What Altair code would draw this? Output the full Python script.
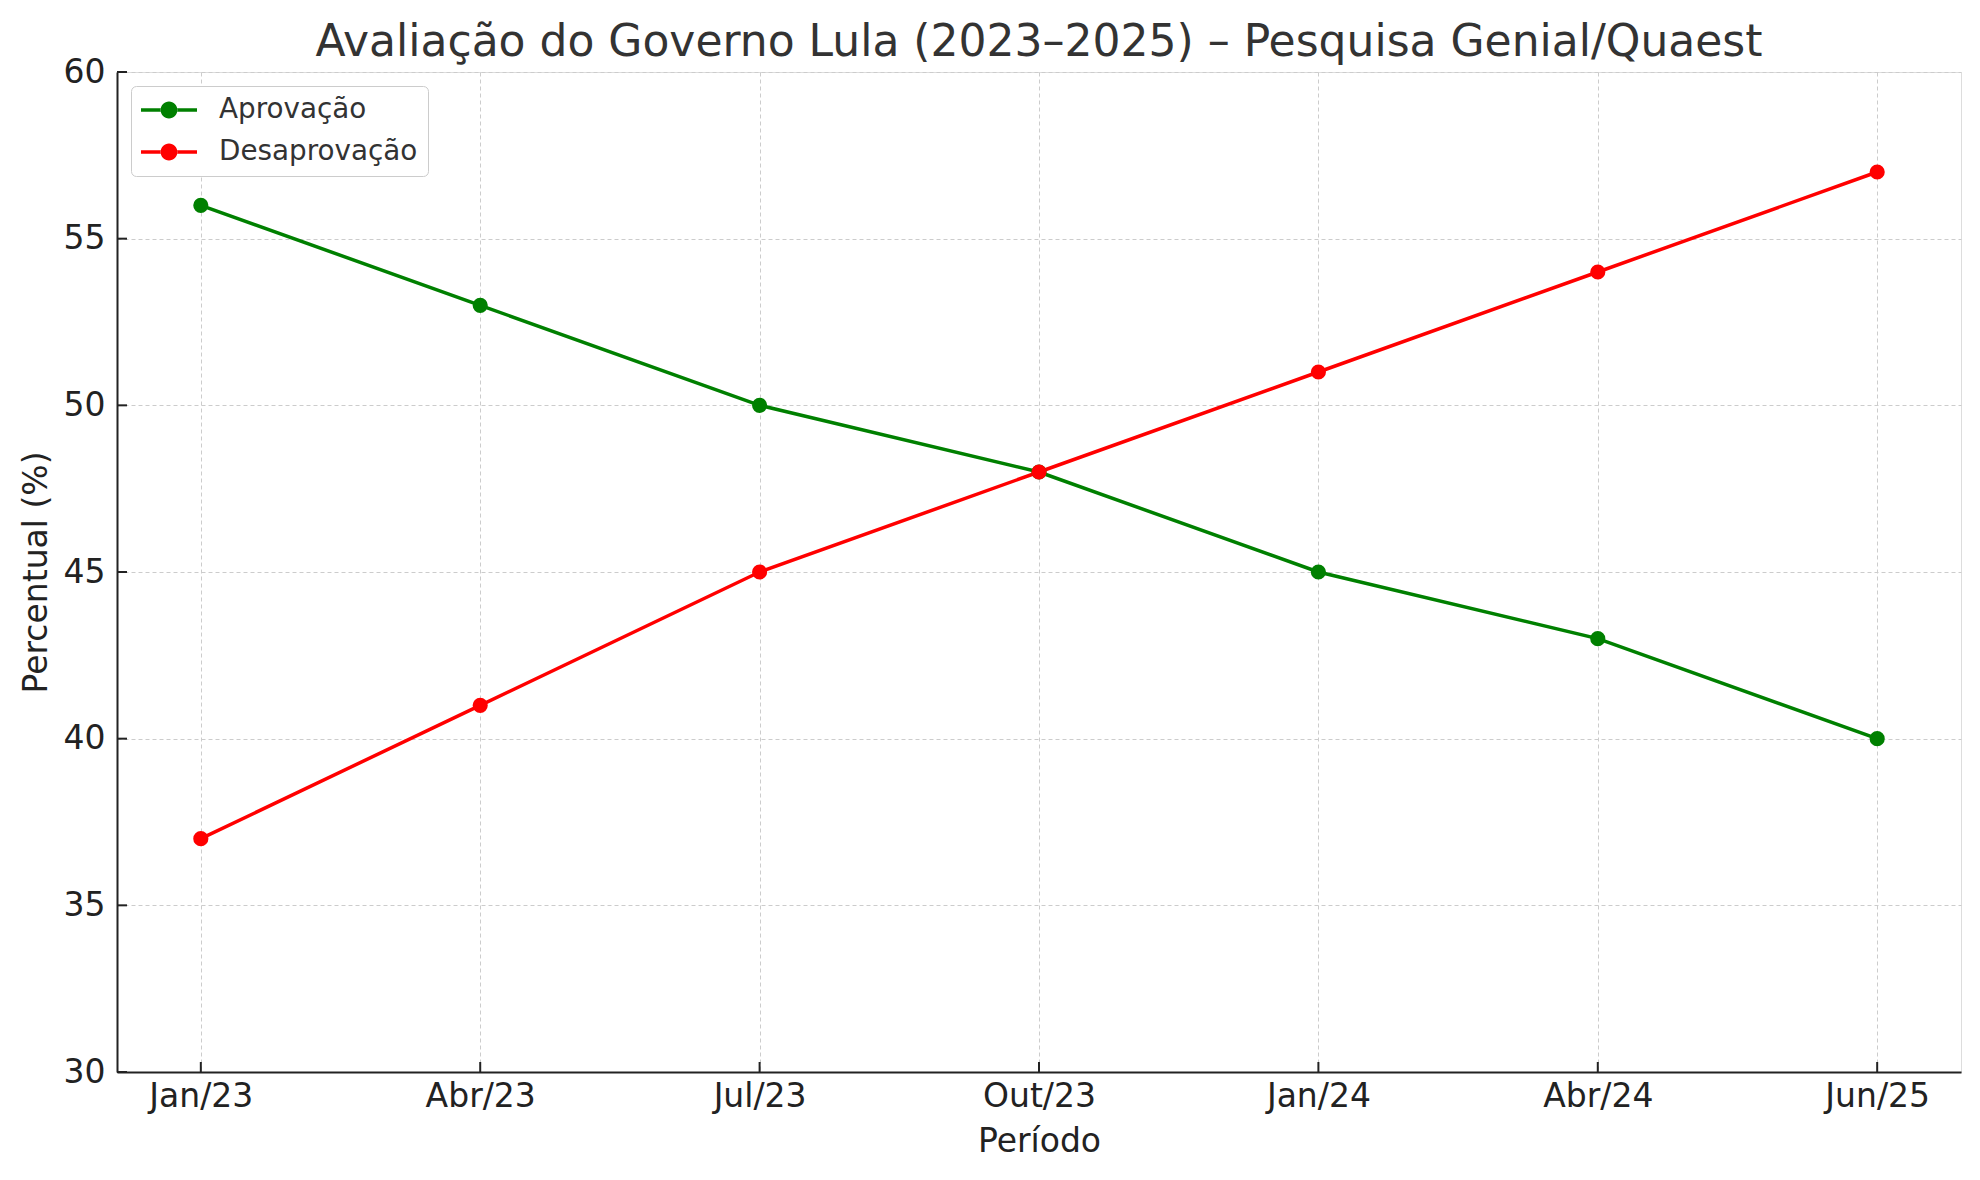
import altair as alt
import pandas as pd

periods = ["Jan/23", "Abr/23", "Jul/23", "Out/23", "Jan/24", "Abr/24", "Jun/25"]
aprovacao = [56, 53, 50, 48, 45, 43, 40]
desaprovacao = [37, 41, 45, 48, 51, 54, 57]
series_names = ["Aprovação", "Desaprovação"]
series_colors = ["green", "red"]
y_ticks = [30, 35, 40, 45, 50, 55, 60]

rows = []
for p, a, d in zip(periods, aprovacao, desaprovacao):
    rows.append({"Período": p, "Série": series_names[0], "Valor": a})
    rows.append({"Período": p, "Série": series_names[1], "Valor": d})
df = pd.DataFrame(rows)
ytick_df = pd.DataFrame({"Valor": y_ticks})
xtick_df = pd.DataFrame({"Período": periods})

FONT = "DejaVu Sans"
W, H = 1844, 1000

xscale = alt.Scale(type="point", padding=0.3)
yscale = alt.Scale(domain=[30, 60], nice=False, zero=False)

x_axis = alt.Axis(title="Período", labelAngle=0, ticks=False, grid=True,
                  gridDash=[4, 3], gridColor="#cccccc", gridWidth=1,
                  domainColor="#222222", domainWidth=2,
                  labelFont=FONT, labelFontSize=33, labelColor="#222222",
                  labelPadding=8, titleFont=FONT, titleFontSize=33,
                  titleFontWeight="normal", titleColor="#222222", titlePadding=12)
y_axis = alt.Axis(title="Percentual (%)", values=y_ticks, ticks=False, grid=True,
                  gridDash=[4, 3], gridColor="#cccccc", gridWidth=1,
                  domainColor="#222222", domainWidth=2,
                  labelFont=FONT, labelFontSize=33, labelColor="#222222",
                  labelPadding=12, titleFont=FONT, titleFontSize=33,
                  titleFontWeight="normal", titleColor="#222222", titlePadding=10)

# legend glyph: line with a circle in the middle (unit = 14px)
legend_path = ("M-1,-0.125 H0.42 V0.125 H-1 Z "
               "M1.58,-0.125 H3 V0.125 H1.58 Z "
               "M0.4,0 A0.6,0.6 0 1,0 1.6,0 A0.6,0.6 0 1,0 0.4,0 Z")

legend = alt.Legend(title=None, orient="top-left", offset=14, padding=10,
                    strokeColor="#cccccc", fillColor="white", cornerRadius=5,
                    labelFont=FONT, labelFontSize=27.8, labelColor="#333333",
                    labelLimit=500,
                    symbolType=legend_path, symbolSize=784, symbolStrokeWidth=0,
                    symbolOpacity=1, labelOffset=50, rowPadding=14)

color = alt.Color("Série:N", sort=series_names,
                  scale=alt.Scale(domain=series_names, range=series_colors),
                  legend=legend)

x = alt.X("Período:N", sort=periods, scale=xscale, axis=x_axis)
y = alt.Y("Valor:Q", scale=yscale, axis=y_axis)

lines = alt.Chart(df).mark_line(strokeWidth=3.5).encode(x=x, y=y, color=color)
points = alt.Chart(df).mark_point(filled=True, size=230, opacity=1).encode(x=x, y=y, color=color)

yticks = alt.Chart(ytick_df).mark_rule(color="#222222", strokeWidth=2).encode(
    y=alt.Y("Valor:Q", scale=yscale, axis=y_axis), x=alt.value(0), x2=alt.value(10))
xticks = alt.Chart(xtick_df).mark_rule(color="#222222", strokeWidth=2).encode(
    x=alt.X("Período:N", sort=periods, scale=xscale, axis=x_axis),
    y=alt.value(H), y2=alt.value(H - 10))

chart = alt.layer(yticks, xticks, lines, points).properties(
    width=W, height=H,
    autosize=alt.AutoSizeParams(type="none"),
    padding={"left": 109, "top": 64, "right": 11, "bottom": 100},
    title=alt.Title("Avaliação do Governo Lula (2023–2025) – Pesquisa Genial/Quaest",
                    font=FONT, fontSize=44, fontWeight="normal", color="#333333",
                    anchor="middle", offset=-9),
).configure_view(stroke=None).configure(background="white")

chart.save("out.html", embed_options={"renderer": "svg", "actions": False})
